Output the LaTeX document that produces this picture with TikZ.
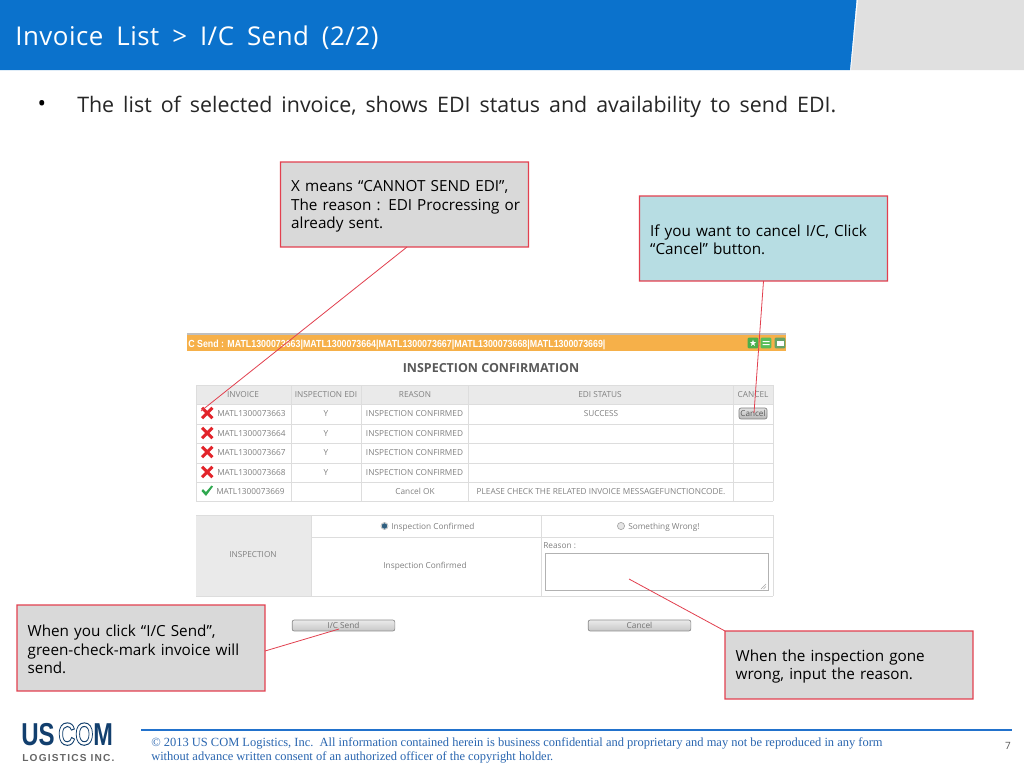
\documentclass[tikz,border=0pt]{standalone}
\usepackage{fontspec}
\setmainfont{Open Sans}
\newfontfamily\footfont{Liberation Serif}
\newfontfamily\arialfont{Liberation Sans}
\newfontfamily\titlefont[LetterSpace=2]{Open Sans}
\newfontfamily\logofont[LetterSpace=12]{Liberation Sans}
\definecolor{barblue}{HTML}{0B72CC}
\definecolor{greyhead}{HTML}{E0E0E0}
\definecolor{cred}{HTML}{E2404F}
\definecolor{boxgrey}{HTML}{D9D9D9}
\definecolor{boxblue}{HTML}{B7DDE3}
\definecolor{uigrid}{HTML}{DDDDDD}
\definecolor{uihead}{HTML}{EAEAEA}
\definecolor{uitext}{HTML}{808080}
\definecolor{orangebar}{HTML}{F6B049}
\definecolor{footblue}{HTML}{2A66B0}
\definecolor{footline}{HTML}{2272CC}
\definecolor{logoblue}{HTML}{123F6E}
\definecolor{xred}{HTML}{E2242A}
\definecolor{okgreen}{HTML}{2FA84F}
\definecolor{radioblue}{HTML}{2F5F80}
\newcommand{\outlinetext}[1]{\special{pdf:code q 1 Tr 0.7 w 0.07 0.25 0.43 RG 1 1 1 rg}#1\special{pdf:code Q}}
\newcommand{\boxline}[1]{\mbox{\rule{0pt}{11pt}#1}}
\tikzset{
  callout/.style={inner xsep=8pt,inner ysep=0pt,outer sep=0pt,text width=170pt,minimum height=#1,align=left,font=\fontsize{11.45}{13.8}\selectfont},
  leader/.style={draw=cred,line width=0.6pt},
  cell/.style={inner sep=0pt,text=uitext,font=\fontsize{6.2}{8}\selectfont},
  gridline/.style={draw=uigrid,line width=0.6pt},
  xmark/.style={draw=xred,line width=2.3pt},
  uibutton/.style={draw=black!45,line width=0.5pt,rounded corners=1.5pt,top color=white!92!black,bottom color=black!22,inner sep=0pt,minimum height=8.2pt,text=black!55,font=\fontsize{6.2}{8}\selectfont},
  winbtn/.style={rounded corners=0.8pt,inner sep=0pt,minimum size=8pt},
}
\begin{document}
\begin{tikzpicture}[x=0.75pt,y=-0.75pt]
\useasboundingbox (0,0) rectangle (1024,768);
\fill[white] (0,0) rectangle (1024,768);
% header
\fill[greyhead] (858,0) -- (1024,0) -- (1024,70) -- (851,70) -- cycle;
\fill[barblue] (0,0) -- (856.5,0) -- (850,70) -- (0,70) -- cycle;
\node[anchor=base west,inner sep=0pt,text=white,font=\titlefont\fontsize{19.4}{24}\selectfont] (title) at (15,45) {\spaceskip=0.5em\relax Invoice List > I/C Send (2/2)};
% bullet line
\node[inner sep=0pt,font=\fontsize{17}{20}\selectfont] (bul) at (42,106) {•};
\node[anchor=base west,inner sep=0pt,text=black!85,font=\fontsize{16.05}{20}\selectfont] (lead) at (77,112) {\spaceskip=0.42em\relax The list of selected invoice, shows EDI status and availability to send EDI.};
% window bar
\fill[orangebar] (187,333) rectangle (786,351);
\fill[black!25] (187,333) rectangle (786,335);
\node[anchor=base west,inner sep=0pt,text=white,font=\arialfont\bfseries\fontsize{7.7}{9}\selectfont] (bartext) at (188,347) {\scalebox{0.862}[1]{C Send : MATL1300073663|MATL1300073664|MATL1300073667|MATL1300073668|MATL1300073669|}};
\node[winbtn,fill=green!55!black!70] (wa) at (753,343) {};
\node[winbtn,fill=green!60!black!65] (wb) at (766,343) {};
\node[winbtn,fill=green!40!black!60] (wc) at (780,343) {};
\fill[white] (753,339.5) -- (755,346) -- (749.8,342) -- (756.2,342) -- (751,346) -- cycle;
\fill[white] (762.5,341) rectangle (769.5,342.2) (762.5,344) rectangle (769.5,345.2);
\fill[white] (776.5,340.5) rectangle (783.5,346);
\node[inner sep=0pt,text=black!65,font=\bfseries\fontsize{9.35}{11}\selectfont] (wintitle) at (491,368) {INSPECTION CONFIRMATION};
% table
\fill[uihead] (196,385) rectangle (773,404);
\foreach \yy in {385,404,424,443,463,482,501} \draw[gridline] (196,\yy) -- (773,\yy);
\foreach \xx in {196,291,361,468,733,773} \draw[gridline] (\xx,385) -- (\xx,501);
\node[cell] (h1) at (243,394.5) {INVOICE};
\node[cell] (h2) at (326,394.5) {INSPECTION EDI};
\node[cell] (h3) at (415,394.5) {REASON};
\node[cell] (h4) at (600,394.5) {EDI STATUS};
\node[cell] (h5) at (753,394.5) {CANCEL};
\node[cell,anchor=west] (i1) at (217,413.5) {MATL1300073663};
\node[cell,anchor=west] (i2) at (217,433.5) {MATL1300073664};
\node[cell,anchor=west] (i3) at (217,452.5) {MATL1300073667};
\node[cell,anchor=west] (i4) at (217,472.5) {MATL1300073668};
\node[cell,anchor=west] (i5) at (216,491.5) {MATL1300073669};
\node[cell] (y1) at (326,413.5) {Y};
\node[cell] (y2) at (326,433.5) {Y};
\node[cell] (y3) at (326,452.5) {Y};
\node[cell] (y4) at (326,472.5) {Y};
\node[cell] (r1) at (414.5,413.5) {INSPECTION CONFIRMED};
\node[cell] (r2) at (414.5,433.5) {INSPECTION CONFIRMED};
\node[cell] (r3) at (414.5,452.5) {INSPECTION CONFIRMED};
\node[cell] (r4) at (414.5,472.5) {INSPECTION CONFIRMED};
\node[cell] (r5) at (415,491.5) {Cancel OK};
\node[cell] (s1) at (601,413.5) {SUCCESS};
\node[cell] (s5) at (601,491.5) {PLEASE CHECK THE RELATED INVOICE MESSAGEFUNCTIONCODE.};
\foreach \yy in {413,433,452,472} {\draw[xmark] (202,\yy-5.2) -- (212.5,\yy+5.2) (212.5,\yy-5.2) -- (202,\yy+5.2);}
\fill[okgreen] (201.5,491) -- (203,489) -- (206,492) -- (211.5,485.5) -- (213,486.5) -- (206,496) -- cycle;
\node[draw=black!50,line width=0.5pt,rounded corners=1.5pt,top color=black!12,bottom color=black!28,inner sep=0pt,minimum height=8.2pt,minimum width=21pt,text=black!65,font=\fontsize{6.1}{8}\selectfont] (cancelsmall) at (753,413.5) {Cancel};
% form
\fill[uihead] (196,515) rectangle (311,596);
\draw[gridline] (196,515) -- (773,515) (311,537) -- (773,537) (196,596) -- (773,596);
\draw[gridline] (311,515) -- (311,596) (541,515) -- (541,596) (773,515) -- (773,596);
\node[cell] (insp) at (253,555) {INSPECTION};
\fill[radioblue] (384.5,526) circle[radius=2.8];
\draw[black!30,line width=0.4pt] (384.5,526) circle[radius=3.6];
\node[cell,anchor=west] (opt1) at (391,527) {Inspection Confirmed};
\draw[black!35,fill=black!10,line width=0.5pt] (621,526) circle[radius=3.6];
\node[cell,anchor=west] (opt2) at (628,527) {Something Wrong!};
\node[cell] (conf) at (425,566) {Inspection Confirmed};
\node[cell,anchor=west] (reason) at (543,546) {Reason :};
\node[draw=black!30,line width=0.6pt,minimum width=167.25pt,minimum height=27.75pt,inner sep=0pt] (area) at (656.5,571.5) {};
\draw[black!35,line width=0.3pt] (766,584) -- (761,589) (766,586.5) -- (763.5,589);
\coordinate (areapt) at (629,579);
\node[uibutton,minimum width=77pt] (send) at (343.5,625.5) {I/C Send};
\node[uibutton,minimum width=77pt] (cancelbig) at (639.5,625.5) {Cancel};
\coordinate (sendpt) at (339,629);
\coordinate (xpt) at (201,411);
\coordinate (cancelpt) at (754,413);
% callouts
\node[callout=63.75pt,fill=boxgrey] (ca) at (404.5,204.5) {\boxline{X means “CANNOT SEND EDI”,}\\\boxline{The reason : EDI Procressing or}\\\boxline{already sent.}};
\node[callout=63.75pt,fill=boxblue] (cb) at (763.5,238.5) {\boxline{If you want to cancel I/C, Click}\\\boxline{“Cancel” button.}};
\node[callout=64.5pt,fill=boxgrey] (cc) at (141,648) {\boxline{When you click “I/C Send”,}\\\boxline{green-check-mark invoice will}\\\boxline{send.}};
\node[callout=51pt,fill=boxgrey] (cd) at (849,665) {\boxline{When the inspection gone}\\\boxline{wrong, input the reason.}};
\foreach \n in {ca,cb,cc,cd}
  \fill[cred,even odd rule]
    ([xshift=-0.4pt,yshift=0.4pt]\n.north west) rectangle ([xshift=0.4pt,yshift=-0.4pt]\n.south east)
    ([xshift=0.4pt,yshift=-0.4pt]\n.north west) rectangle ([xshift=-0.4pt,yshift=0.4pt]\n.south east);
\draw[leader] (ca.south) ++(2.5,0) coordinate (caout) -- (xpt);
\draw[leader] (cb.south) -- (cancelpt);
\draw[leader] (cc.east) ++(0,3) coordinate (ccout) -- (sendpt);
\draw[leader] (cd.north west) -- (areapt);
% footer
\draw[draw=footline,line width=1pt] (141,730) -- (1012,730);
\node[anchor=base west,inner sep=0pt,align=left,text=footblue,font=\footfont\fontsize{9.35}{10.5}\selectfont] (foot) at (151,760) {© 2013 US COM Logistics, Inc.\ \ All information contained herein is business confidential and proprietary and may not be reproduced in any form\\without advance written consent of an authorized officer of the copyright holder.};
\node[inner sep=0pt,text=black!65,font=\fontsize{7.5}{9}\selectfont] (pg) at (1008,746) {7};
% logo
\node[anchor=base west,inner sep=0pt,text=logoblue,font=\arialfont\bfseries\fontsize{22}{24}\selectfont] (logous) at (21,745) {\scalebox{0.82}[1.08]{US}};
\node[anchor=base west,inner sep=0pt,text=logoblue,font=\arialfont\bfseries\fontsize{22}{24}\selectfont] (logocom) at (58,745) {\scalebox{0.8}[1.08]{\outlinetext{C}\outlinetext{O}M}};
\node[anchor=base west,inner sep=0pt,text=black!60,font=\logofont\bfseries\fontsize{7.6}{9}\selectfont] (logosub) at (22,761) {LOGISTICS INC.};
\end{tikzpicture}
\end{document}
